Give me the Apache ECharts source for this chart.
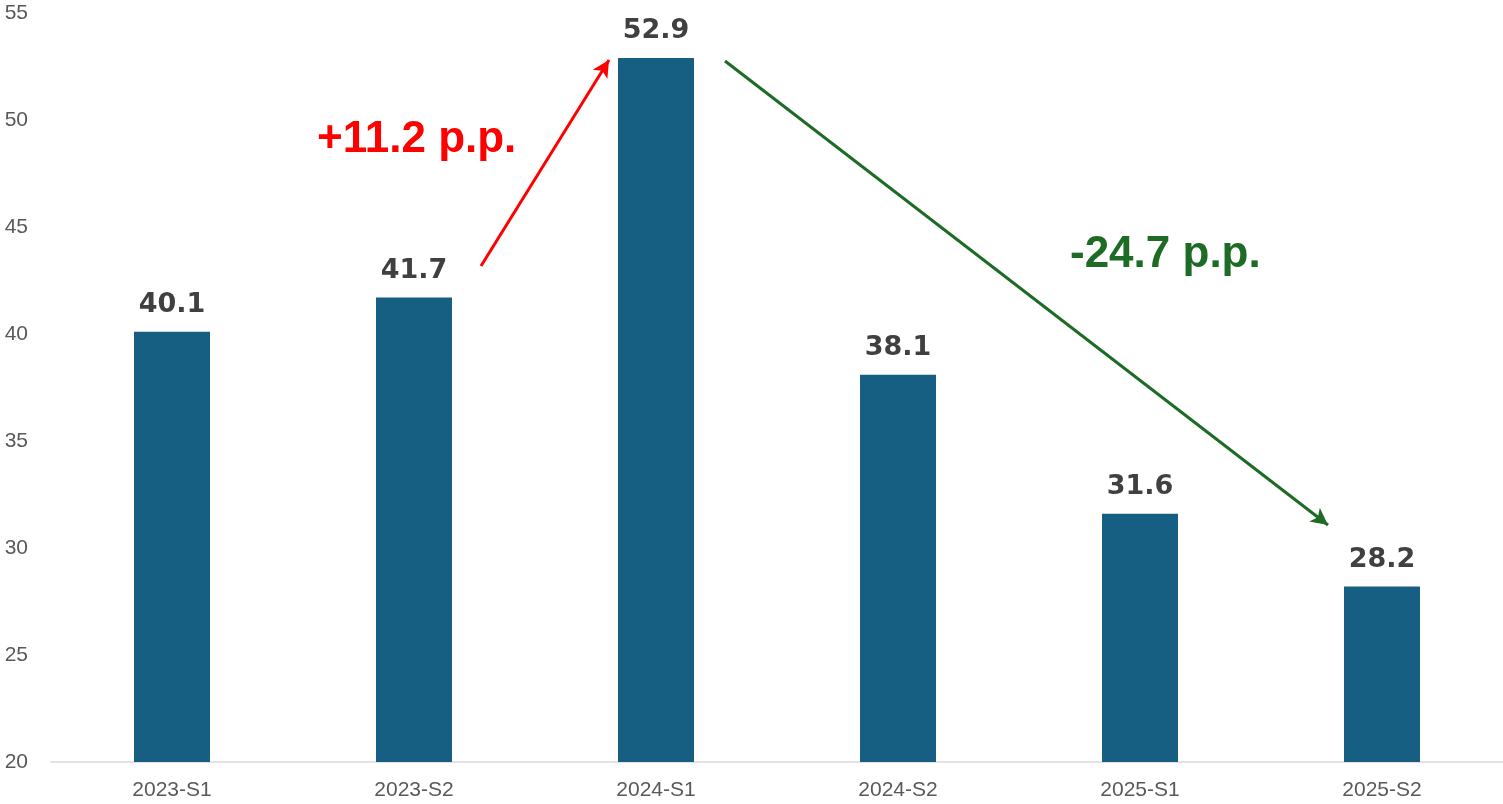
<!DOCTYPE html>
<html>
<head>
<meta charset="utf-8">
<script src="https://cdn.jsdelivr.net/npm/echarts@6/dist/echarts.min.js"></script>
<style>
  html, body { margin: 0; padding: 0; background: #fff; }
  #main { width: 1503px; height: 804px; }
</style>
</head>
<body>
<div id="main"></div>
<script>
// 类目与数值
var categories = ['2023-S1', '2023-S2', '2024-S1', '2024-S2', '2025-S1', '2025-S2']
var values = [40.1, 41.7, 52.9, 38.1, 31.6, 28.2]
var annotationUp = '+11.2 p.p.'
var annotationDown = '-24.7 p.p.'

var chart = echarts.init(document.getElementById('main'))

var option = {
  animation: false,
  grid: { left: 51, right: 0, top: 13, bottom: 42, containLabel: false },
  xAxis: {
    type: 'category',
    data: categories,
    axisLine: { show: true, lineStyle: { color: '#d9d9d9', width: 1.5 } },
    axisTick: { show: false },
    axisLabel: { color: '#595959', fontSize: 21, fontFamily: 'Liberation Sans, Arial', margin: 18 }
  },
  yAxis: {
    type: 'value',
    min: 20,
    max: 55,
    interval: 5,
    splitLine: { show: false },
    axisLine: { show: false },
    axisTick: { show: false },
    axisLabel: { color: '#595959', fontSize: 21, fontFamily: 'Liberation Sans, Arial', margin: 23 }
  },
  series: [
    {
      type: 'bar',
      data: values,
      barWidth: 76,
      itemStyle: { color: '#175F82' },
      label: {
        show: true,
        position: 'top',
        distance: 13,
        color: '#404040',
        fontSize: 27,
        fontWeight: 'bold',
        fontFamily: 'DejaVu Sans',
        formatter: function (p) { return p.value.toFixed(1) }
      },
      markLine: {
        silent: true,
        symbol: ['none', 'arrow'],
        symbolSize: [13, 17],
        label: { show: false },
        data: [
          [
            { x: 481, y: 266, lineStyle: { color: '#FF0000', width: 3, type: 'solid' } },
            { x: 609, y: 60 }
          ],
          [
            { x: 725, y: 61, lineStyle: { color: '#1D6B25', width: 3, type: 'solid' } },
            { x: 1328, y: 525 }
          ]
        ]
      }
    }
  ],
  graphic: [
    {
      type: 'text',
      left: 317,
      top: 118,
      style: {
        text: annotationUp,
        fill: '#FF0000',
        font: 'bold 44px "Liberation Sans", Arial'
      }
    },
    {
      type: 'text',
      left: 1070,
      top: 233,
      style: {
        text: annotationDown,
        fill: '#1D6B25',
        font: 'bold 44px "Liberation Sans", Arial'
      }
    }
  ]
}

chart.setOption(option)
</script>
</body>
</html>
